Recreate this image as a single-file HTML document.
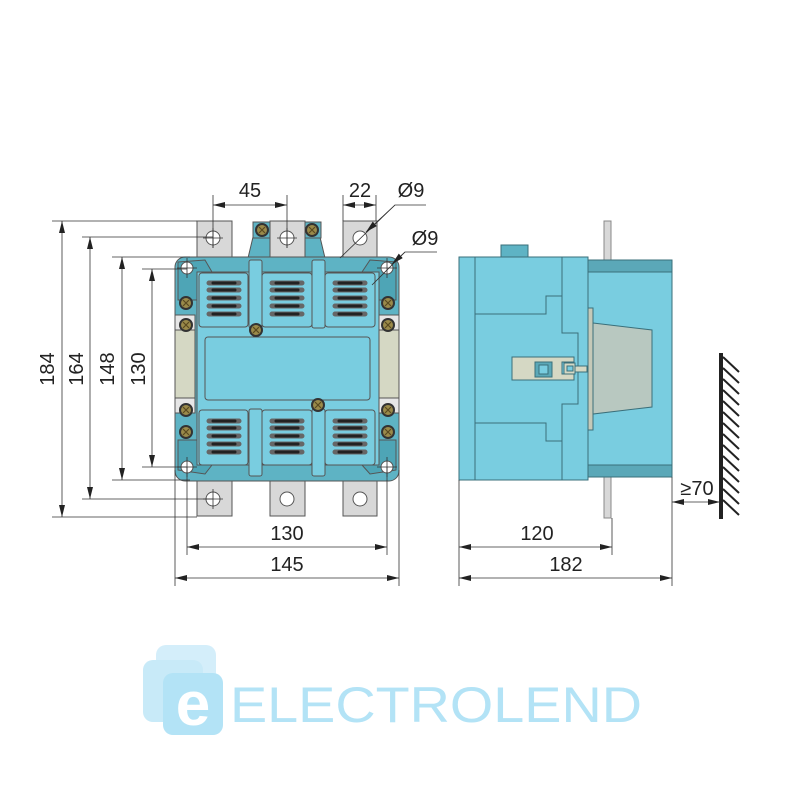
<!DOCTYPE html>
<html><head><meta charset="utf-8"><style>
html,body{margin:0;padding:0;background:#fff;}
svg{display:block;}
text{font-family:"Liberation Sans",sans-serif;fill:#222;}
</style></head><body>
<svg width="800" height="800" viewBox="0 0 800 800" xmlns="http://www.w3.org/2000/svg">
<defs>
<marker id="a" viewBox="0 0 12 6" refX="12" refY="3" markerWidth="12" markerHeight="6" orient="auto-start-reverse" markerUnits="userSpaceOnUse"><path d="M0,0L12,3L0,6z" fill="#222"/></marker>
<g id="screw"><circle r="6" fill="#9a8a4a" stroke="#333" stroke-width="2"/><path d="M-3,-3L3,3M3,-3L-3,3" stroke="#5a4a20" stroke-width="1.2"/></g>
<g id="slots" stroke-linecap="round">
<g stroke="#666" stroke-width="5"><path d="M209,283H239M209,290H239M209,298H239M209,306H239M209,314H239"/></g>
<g stroke="#222" stroke-width="3"><path d="M213,283H235M213,290H235M213,298H235M213,306H235M213,314H235"/></g>
</g>
</defs>

<!-- ===== FRONT VIEW ===== -->
<g stroke="#555" stroke-width="1">
<!-- terminals top -->
<rect x="197" y="221" width="35" height="45" fill="#d8d8d8"/>
<rect x="270" y="221" width="35" height="45" fill="#d8d8d8"/>
<rect x="343" y="221" width="34" height="45" fill="#d8d8d8"/>
<!-- top bumps -->
<path d="M253,237H320L325,258H248Z" fill="#5eb3c4"/>
<rect x="253" y="222" width="17" height="16" fill="#5eb3c4"/>
<rect x="305" y="222" width="16" height="16" fill="#5eb3c4"/>
<rect x="270" y="221" width="35" height="45" fill="#d8d8d8"/>
<!-- bottom terminals -->
<rect x="197" y="470" width="35" height="46" fill="#d8d8d8"/>
<rect x="270" y="470" width="35" height="46" fill="#d8d8d8"/>
<rect x="343" y="470" width="34" height="46" fill="#d8d8d8"/>
<!-- body -->
<rect x="175" y="257" width="224" height="224" rx="10" fill="#5eb3c4"/>
<path d="M178,262L205,260L212,272V300H178Z M396,262L370,260L362,272V300H396Z M178,470L205,474L212,465V440H178Z M396,470L370,474L362,465V440H396Z" fill="#4ea5b6"/>
<rect x="197" y="272" width="182" height="193" fill="#79cde0"/>
<rect x="175" y="330" width="20" height="68" fill="#d5d8c4"/>
<rect x="379" y="330" width="20" height="68" fill="#d5d8c4"/>
<rect x="175" y="315" width="20" height="15" fill="#e6e6e6"/>
<rect x="379" y="315" width="20" height="15" fill="#e6e6e6"/>
<rect x="175" y="398" width="20" height="15" fill="#e6e6e6"/>
<rect x="379" y="398" width="20" height="15" fill="#e6e6e6"/>
<!-- modules -->
<rect x="199" y="273" width="49" height="54" rx="3" fill="#79cde0"/>
<rect x="262" y="273" width="50" height="54" rx="3" fill="#79cde0"/>
<rect x="325" y="273" width="50" height="54" rx="3" fill="#79cde0"/>
<rect x="205" y="337" width="165" height="63" rx="3" fill="#79cde0"/>
<rect x="199" y="410" width="49" height="55" rx="3" fill="#79cde0"/>
<rect x="262" y="410" width="50" height="55" rx="3" fill="#79cde0"/>
<rect x="325" y="410" width="50" height="55" rx="3" fill="#79cde0"/>
<rect x="249" y="260" width="13" height="68" rx="2" fill="#79cde0"/>
<rect x="312" y="260" width="13" height="68" rx="2" fill="#79cde0"/>
<rect x="249" y="409" width="13" height="67" rx="2" fill="#79cde0"/>
<rect x="312" y="409" width="13" height="67" rx="2" fill="#79cde0"/>
<!-- holes -->
<g fill="#fff">
<circle cx="213" cy="238" r="7"/><circle cx="287" cy="238" r="7"/><circle cx="360" cy="238" r="7"/>
<circle cx="213" cy="499" r="7"/><circle cx="287" cy="499" r="7"/><circle cx="360" cy="499" r="7"/>
<circle cx="187" cy="268" r="6"/><circle cx="387" cy="268" r="6"/>
<circle cx="187" cy="467" r="6"/><circle cx="387" cy="467" r="6"/>
</g>
</g>
<use href="#slots"/><use href="#slots" x="63"/><use href="#slots" x="126"/>
<use href="#slots" y="138"/><use href="#slots" x="63" y="138"/><use href="#slots" x="126" y="138"/>
<use href="#screw" x="262" y="230"/><use href="#screw" x="312" y="230"/>
<use href="#screw" x="256" y="330"/><use href="#screw" x="318" y="405"/>
<use href="#screw" x="186" y="303"/><use href="#screw" x="186" y="325"/>
<use href="#screw" x="388" y="303"/><use href="#screw" x="388" y="325"/>
<use href="#screw" x="186" y="410"/><use href="#screw" x="186" y="432"/>
<use href="#screw" x="388" y="410"/><use href="#screw" x="388" y="432"/>

<!-- front dimensions -->
<g stroke="#333" stroke-width="0.8" fill="none">
<path d="M213,195V248M287,195V248M343,195V221M376,195V221"/>
<path d="M52,221H197M82,237H213M112,257H190M142,269H187M52,517H197M82,499H213M112,480H190M142,467H187"/>
<path d="M187,467V555M387,467V555M175,470V586M399,470V586"/>
<path d="M213,205H287" marker-start="url(#a)" marker-end="url(#a)"/>
<path d="M343,205H376" marker-start="url(#a)" marker-end="url(#a)"/>
<path d="M62,221V517" marker-start="url(#a)" marker-end="url(#a)"/>
<path d="M90,237V499" marker-start="url(#a)" marker-end="url(#a)"/>
<path d="M122,257V480" marker-start="url(#a)" marker-end="url(#a)"/>
<path d="M152,269V467" marker-start="url(#a)" marker-end="url(#a)"/>
<path d="M187,547H387" marker-start="url(#a)" marker-end="url(#a)"/>
<path d="M175,578H399" marker-start="url(#a)" marker-end="url(#a)"/>
<path d="M426,205H395L340,258"/>
<path d="M395,205L366,232" marker-end="url(#a)"/>
<path d="M437,252H405L372,285"/>
<path d="M405,252L392,264" marker-end="url(#a)"/>
<path d="M213,228V248M203,238H223M287,228V248M277,238H297M213,489V509M203,499H223M187,258V278M177,268H197M387,258V278M377,268H397M187,457V477M177,467H197M387,457V477M377,467H397"/>
</g>
<g font-size="20" text-anchor="middle">
<text x="250" y="197">45</text>
<text x="360" y="197">22</text>
<text x="411" y="197">Ø9</text>
<text x="425" y="245">Ø9</text>
<text x="287" y="540">130</text>
<text x="287" y="571">145</text>
<text transform="translate(54,369) rotate(-90)">184</text>
<text transform="translate(83,369) rotate(-90)">164</text>
<text transform="translate(114,369) rotate(-90)">148</text>
<text transform="translate(145,369) rotate(-90)">130</text>
</g>

<!-- ===== SIDE VIEW ===== -->
<g stroke="#3a6f7a" stroke-width="1">
<rect x="604" y="221" width="7" height="297" fill="#d8d8d8" stroke="#888"/>
<rect x="501" y="245" width="27" height="12" fill="#5eb3c4"/>
<rect x="587" y="260" width="85" height="217" fill="#79cde0"/>
<rect x="587" y="260" width="85" height="12" fill="#5ba8b8"/>
<rect x="587" y="465" width="85" height="12" fill="#5ba8b8"/>
<rect x="587" y="308" width="6" height="122" fill="#c5c9b8"/>
<path d="M593,323L652,330V407L593,414Z" fill="#b8c8c0"/>
<rect x="459" y="257" width="129" height="223" fill="#79cde0"/>
<path d="M475,257V480M475,314H546V296H562M562,257V333H578V404H562V480M475,423H546V441H562" fill="none"/>
<path d="M512,357H574V362H562V374H574V380H512Z" fill="#d5d8c4"/>
<rect x="535" y="362" width="17" height="15" fill="#5ba8b8"/>
<rect x="539" y="365" width="9" height="9" fill="#79cde0"/>
<rect x="564" y="363" width="11" height="11" fill="#d5d8c4"/>
<rect x="567" y="366" width="6" height="5" fill="#79cde0"/>
<rect x="575" y="366" width="12" height="6" fill="#d5d8c4"/>
</g>
<!-- wall -->
<rect x="719" y="353" width="4" height="166" fill="#222"/>
<g stroke="#222" stroke-width="2">
<path d="M723,357l16,15M723,368l16,15M723,379l16,15M723,390l16,15M723,401l16,15M723,412l16,15M723,423l16,15M723,434l16,15M723,445l16,15M723,456l16,15M723,467l16,15M723,478l16,15M723,489l16,15M723,500l16,15"/>
</g>
<g stroke="#333" stroke-width="0.8" fill="none">
<path d="M459,480V586M612,518V555M672,477V586"/>
<path d="M459,547H612" marker-start="url(#a)" marker-end="url(#a)"/>
<path d="M459,578H672" marker-start="url(#a)" marker-end="url(#a)"/>
<path d="M672,502H720" marker-start="url(#a)" marker-end="url(#a)"/>
</g>
<g font-size="20" text-anchor="middle">
<text x="537" y="540">120</text>
<text x="566" y="571">182</text>
<text x="697" y="495">≥70</text>
</g>

<!-- ===== LOGO ===== -->
<rect x="156" y="645" width="60" height="64" rx="10" fill="#d4eefa"/>
<rect x="143" y="660" width="60" height="62" rx="10" fill="#c8eaf8"/>
<rect x="163" y="673" width="60" height="62" rx="10" fill="#b3e3f6"/>
<text x="193" y="725" font-size="62" text-anchor="middle" style="fill:#fff;font-weight:bold">e</text>
<text x="230" y="722" font-size="50" textLength="412" lengthAdjust="spacingAndGlyphs" style="fill:#b3e3f6">ELECTROLEND</text>
</svg>
</body></html>
